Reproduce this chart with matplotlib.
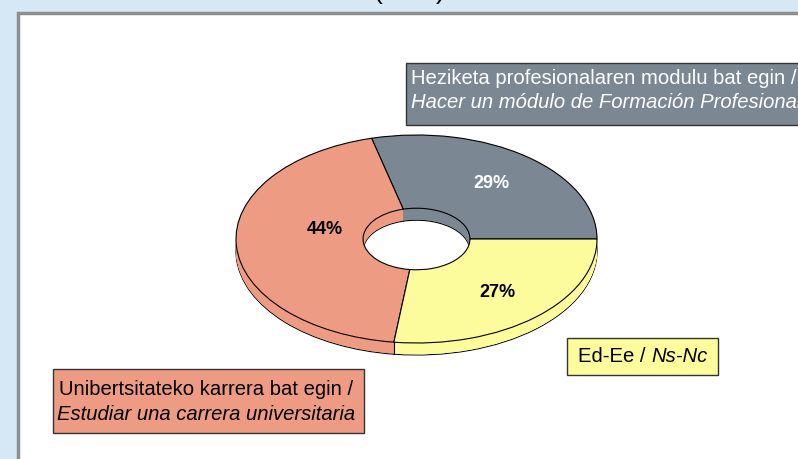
import numpy as np
import matplotlib
matplotlib.use("Agg")
import matplotlib.pyplot as plt
from matplotlib.patches import Rectangle

# data
labels = ["Heziketa profesionalaren modulu bat egin /",
          "Unibertsitateko karrera bat egin /",
          "Ed-Ee /"]
labels_es = ["Hacer un módulo de Formación Profesional",
             "Estudiar una carrera universitaria",
             "Ns-Nc"]
values = [29, 44, 27]
colors = ["#7b8893", "#ee9b84", "#fcfc9c"]
pct_colors = ["white", "black", "black"]

W, H = 798, 459
plt.rcParams['font.family'] = ['Liberation Sans', 'DejaVu Sans']
fig = plt.figure(figsize=(W / 100, H / 100), dpi=100)
fig.patch.set_facecolor("#d6e7f5")


def fx(x):
    return x / W


def fy(y):
    return 1 - y / H


# white panel with grey border
fig.patches.append(Rectangle((fx(17.5), fy(470)), fx(800), fy(12.5) - fy(470),
                             transform=fig.transFigure, facecolor="white",
                             edgecolor="#8f8f8f", linewidth=2.5, zorder=0))
# title, mostly above the visible area
fig.text(fx(409), fy(-1.5), "(  %  )", ha="center", va="baseline",
         fontsize=19)

# pie axes: radius 1 -> 180.5 px wide, 104 px high
cx, cy, rx, ry = 416.5, 239, 180.5, 104
ax = fig.add_axes([fx(cx - 1.25 * rx), fy(cy + 1.25 * ry), 2.5 * rx / W, 2.5 * ry / H])
ax.set_zorder(2)
hole = 0.296
depth = 12 / ry
nlay = 24
for k in range(nlay, 0, -1):
    edge = "black" if k == nlay else "none"
    ax.pie(values, colors=colors, startangle=0, counterclock=True,
           center=(0, -depth * k / nlay),
           wedgeprops=dict(width=1 - hole, edgecolor=edge, linewidth=0.8))
wedges, texts, autotexts = ax.pie(values, colors=colors, startangle=0,
                                  counterclock=True, autopct="%d%%", pctdistance=0.68,
                                  wedgeprops=dict(width=1 - hole, edgecolor="black",
                                                  linewidth=0.8),
                                  textprops=dict(fontsize=13, fontweight="bold"))
for t, c in zip(autotexts, pct_colors):
    t.set_color(c)
# 44% label sits a bit inward
th = np.deg2rad(170)
autotexts[1].set_position((0.514 * np.cos(th), 0.514 * np.sin(th)))

# seam lines on the visible side
bounds = np.cumsum([0] + values) / sum(values) * 360
for b in bounds:
    a = np.deg2rad(b)
    if np.sin(a) < -0.01:
        ax.plot([np.cos(a), np.cos(a)], [np.sin(a), np.sin(a) - depth],
                color="black", lw=0.8)
ax.set_aspect("auto")
ax.set_xlim(-1.25, 1.25)
ax.set_ylim(-1.25, 1.25)
ax.axis("off")


def box(x0, y0, x1, y1, color):
    fig.patches.append(Rectangle((fx(x0), fy(y1)), fx(x1) - fx(x0), fy(y0) - fy(y1),
                                 transform=fig.transFigure, facecolor=color,
                                 edgecolor="#333333", linewidth=1, zorder=3))


fs = 14.6
# grey label
box(406, 63, 820, 125, colors[0])
fig.text(fx(411), fy(83.5), labels[0], color="white", fontsize=fs, va="baseline", zorder=4)
fig.text(fx(411), fy(108.5), labels_es[0], color="white", fontsize=fs, style="italic",
         va="baseline", zorder=4)

# salmon label
box(52.5, 368.5, 363.5, 433, colors[1])
fig.text(fx(206.5), fy(395), labels[1], fontsize=fs, ha="center", va="baseline", zorder=4)
fig.text(fx(206.5), fy(420), labels_es[1], fontsize=fs, style="italic", ha="center",
         va="baseline", zorder=4)

# yellow label
box(567, 337.5, 718, 375, colors[2])
t1 = fig.text(fx(578), fy(362.5), labels[2] + " ", fontsize=fs, va="baseline", zorder=4)
fig.canvas.draw()
bb = t1.get_window_extent()
fig.text(bb.x1 / W, fy(362.5), labels_es[2], fontsize=fs, style="italic",
         va="baseline", zorder=4)

fig.savefig("out.png", dpi=100)
